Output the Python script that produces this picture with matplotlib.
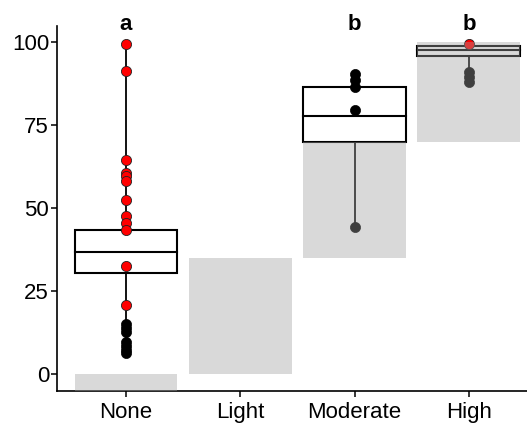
import numpy as np
import matplotlib.pyplot as plt

plt.rcParams['font.family'] = ['Liberation Sans', 'DejaVu Sans']

# groupes et bandes de référence
groupes = ["None", "Light", "Moderate", "High"]
bande_bas = [-5, 0, 35, 70]
bande_haut = [0, 35, 70, 100]

# boîtes (quartile bas, médiane, quartile haut) ; Light sans données
q1 = [30.6, None, 70.0, 95.8]
mediane = [36.9, None, 77.8, 97.7]
q3 = [43.4, None, 86.7, 98.8]

# points individuels : rouges et noirs par groupe
pts_rouges = [
    [99.6, 91.3, 64.7, 60.6, 59.8, 58.2, 52.4, 47.7, 45.6, 43.4, 32.6, 20.8],
    [],
    [],
    [99.4],
]
pts_noirs = [
    [15.1, 13.9, 12.7, 9.6, 8.4, 7.2, 6.3],
    [],
    [90.6, 88.7, 86.7, 79.7, 44.4],
    [91.2, 89.7, 88.2],
]

lettres = ["a", "", "b", "b"]

fig = plt.figure(figsize=(5.27, 4.24), dpi=100)
ax = fig.add_axes([0.1089, 0.0788, 0.911, 0.8601])

largeur = 0.9
for i, g in enumerate(groupes):
    tous = pts_rouges[i] + pts_noirs[i]
    if tous:
        ax.plot([i, i], [min(tous), max(tous)], color="black", lw=1.3, zorder=2)
    if q1[i] is not None:
        ax.add_patch(plt.Rectangle((i - largeur / 2, q1[i]), largeur, q3[i] - q1[i],
                                   facecolor="white", edgecolor="black", lw=1.5, zorder=3))
        ax.plot([i - largeur / 2, i + largeur / 2], [mediane[i]] * 2,
                color="black", lw=1.5, zorder=3)
    if pts_noirs[i]:
        ax.plot([i] * len(pts_noirs[i]), pts_noirs[i], "o", color="black",
                ms=7.3, mec="black", mew=0.5, zorder=4)
    if pts_rouges[i]:
        ax.plot([i] * len(pts_rouges[i]), pts_rouges[i], "o", color="red",
                ms=7.3, mec="#222222", mew=0.6, zorder=5)
    # bande grise semi-transparente par-dessus
    ax.add_patch(plt.Rectangle((i - largeur / 2, bande_bas[i]), largeur,
                               bande_haut[i] - bande_bas[i],
                               facecolor="#a0a0a0", alpha=0.4, lw=0, zorder=6))
    if lettres[i]:
        ax.text(i, 103.8, lettres[i], ha="center", va="baseline",
                fontsize=16, fontweight="bold", clip_on=False)

ax.set_xlim(-0.6, 3.6)
ax.set_ylim(-5, 105)
ax.set_xticks(range(len(groupes)))
ax.set_xticklabels(groupes)
ax.set_yticks([0, 25, 50, 75, 100])
ax.tick_params(labelsize=16, length=4, width=1.1, colors="black")
ax.tick_params(axis="x", pad=4)
ax.tick_params(axis="y", pad=2)

for cote in ["top", "right"]:
    ax.spines[cote].set_visible(False)
for cote in ["left", "bottom"]:
    ax.spines[cote].set_linewidth(1.2)

plt.savefig("out.png", dpi=100)
